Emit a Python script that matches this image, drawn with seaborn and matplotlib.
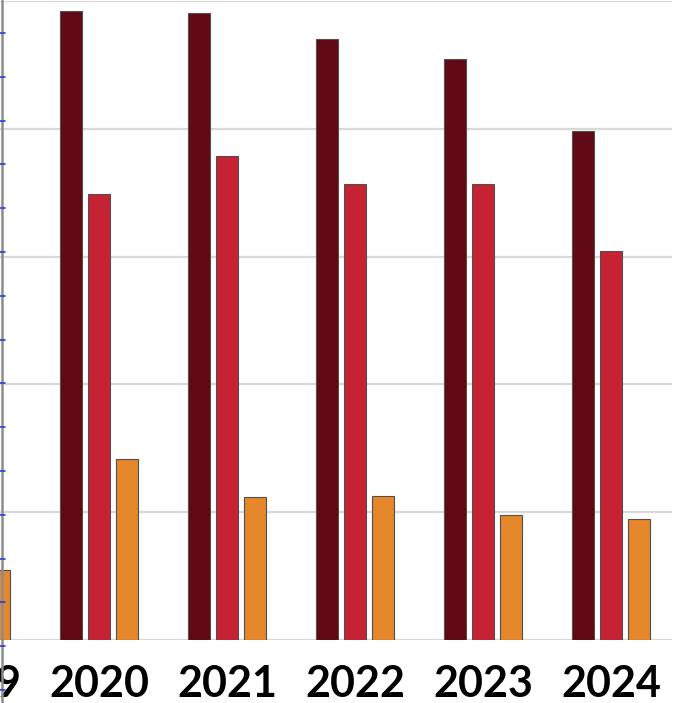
import numpy as np
import pandas as pd
import matplotlib
matplotlib.use("Agg")
import matplotlib.pyplot as plt
from matplotlib.lines import Line2D
import seaborn as sns

# Yearly values for the three series (2019 only partly in view)
years = ["2019", "2020", "2021", "2022", "2023", "2024"]
series_names = ["Series 1", "Series 2", "Series 3"]
series_1 = [np.nan, 49.2, 49.1, 47.0, 45.5, 39.8]
series_2 = [np.nan, 34.9, 37.9, 35.7, 35.7, 30.4]
series_3 = [5.5, 14.2, 11.2, 11.3, 9.8, 9.5]
colors = ["#5f0a15", "#c52233", "#e6872b"]

df = pd.DataFrame({
    "year": years * 3,
    "series": np.repeat(series_names, len(years)),
    "value": series_1 + series_2 + series_3,
})

sns.set_theme(style="white")
plt.rcParams["font.family"] = ["Lato", "DejaVu Sans"]

W, H = 674, 703
fig = plt.figure(figsize=(W / 100, H / 100), dpi=100)
# axes spans beyond the left edge so the 2019 group is cut off
left_px, right_px = -93, 672
bottom_px, top_px = 63, 702
ax = fig.add_axes([left_px / W, bottom_px / H,
                   (right_px - left_px) / W, (top_px - bottom_px) / H])

sns.barplot(data=df, x="year", y="value", hue="series", order=years,
            hue_order=series_names, palette=colors, saturation=1,
            width=0.656, gap=0.214, edgecolor="#505050", linewidth=0.8,
            legend=False, ax=ax, zorder=3)

ax.set_xlim(-0.5, 5.477)
ax.set_ylim(0, 50)
ax.set_yticks(np.arange(0, 51, 10))
ax.set_yticklabels([])
ax.yaxis.grid(True, color="#d9d9d9", linewidth=1.6, zorder=0)
ax.set_axisbelow(True)
for s in ax.spines.values():
    s.set_visible(False)
ax.set_xlabel("")
ax.set_ylabel("")
ax.tick_params(axis="y", length=0)
ax.tick_params(axis="x", length=0, pad=17, labelsize=31, labelcolor="black")
for lab in ax.get_xticklabels():
    lab.set_fontweight("bold")

# left frame rule with small blue marks
fig.add_artist(Line2D([2 / W, 2 / W], [0, 1], color="#8c8c8c",
                      linewidth=1.8, transform=fig.transFigure))
for k in range(16):
    y = 1 - (33 + 43.8 * k) / H
    fig.add_artist(Line2D([0, 4.5 / W], [y, y], color="#2a3fe0",
                          linewidth=1.2, transform=fig.transFigure))

fig.savefig("out.png", dpi=100)
